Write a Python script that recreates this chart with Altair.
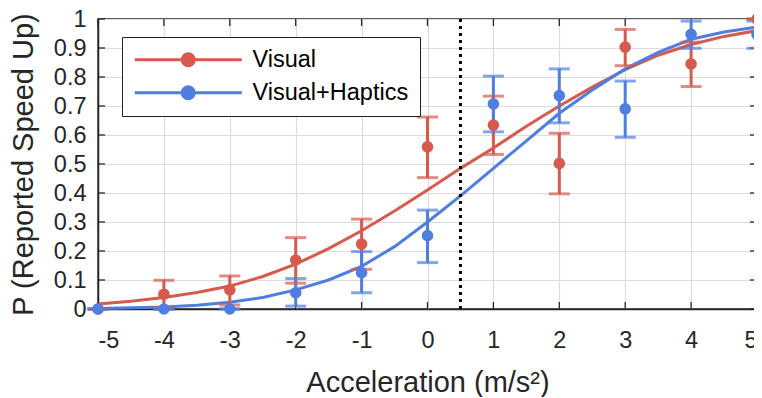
import altair as alt
import pandas as pd

# ---------------- data ----------------
series_names = ["Visual", "Visual+Haptics"]
series_colors = ["#D65A4D", "#4E7FE0"]

accel = [-5, -4, -3, -2, -1, 0, 1, 2, 3, 4, 5]
visual_p = [0.0, 0.051, 0.066, 0.169, 0.224, 0.559, 0.634, 0.502, 0.903, 0.845, 1.0]
visual_lo = [0.0, 0.005, 0.014, 0.089, 0.137, 0.453, 0.533, 0.397, 0.839, 0.767, 1.0]
visual_hi = [0.0, 0.099, 0.114, 0.246, 0.310, 0.662, 0.734, 0.606, 0.964, 0.920, 1.0]
haptic_p = [0.0, 0.0, 0.0, 0.056, 0.125, 0.253, 0.707, 0.736, 0.690, 0.947, 0.947]
haptic_lo = [0.0, 0.0, 0.0, 0.010, 0.056, 0.160, 0.611, 0.642, 0.592, 0.899, 0.899]
haptic_hi = [0.0, 0.0, 0.0, 0.105, 0.198, 0.341, 0.803, 0.828, 0.786, 0.993, 0.993]

# fitted psychometric curves (every 0.5 m/s^2)
curve_x = [-5, -4.5, -4, -3.5, -3, -2.5, -2, -1.5, -1, -0.5, 0, 0.5, 1, 1.5, 2, 2.5, 3, 3.5, 4, 4.5, 5]
visual_curve = [0.017, 0.027, 0.040, 0.057, 0.079, 0.112, 0.155, 0.208, 0.270, 0.338, 0.410,
                0.485, 0.555, 0.630, 0.700, 0.765, 0.825, 0.875, 0.912, 0.940, 0.960]
haptic_curve = [0.002, 0.004, 0.007, 0.013, 0.023, 0.040, 0.066, 0.100, 0.147, 0.215, 0.300,
                0.390, 0.485, 0.580, 0.675, 0.755, 0.828, 0.885, 0.930, 0.955, 0.972]

threshold_x = [0.5]
x_ticks = [-5, -4, -3, -2, -1, 0, 1, 2, 3, 4, 5]
y_ticks = [0, 0.1, 0.2, 0.3, 0.4, 0.5, 0.6, 0.7, 0.8, 0.9, 1.0]

# ---------------- tables ----------------
pts = pd.DataFrame({
    "x": accel * 2,
    "p": visual_p + haptic_p,
    "lo": visual_lo + haptic_lo,
    "hi": visual_hi + haptic_hi,
    "series": [series_names[0]] * len(accel) + [series_names[1]] * len(accel),
})
curves = pd.DataFrame({
    "x": curve_x * 2,
    "p": visual_curve + haptic_curve,
    "series": [series_names[0]] * len(curve_x) + [series_names[1]] * len(curve_x),
})
thr = pd.DataFrame({"x": threshold_x})
xt = pd.DataFrame({"x": x_ticks})
yt = pd.DataFrame({"p": y_ticks})

W, H = 659, 290
FONT = "Liberation Sans"

xscale = alt.Scale(domain=[-5, 5], nice=False, zero=False)
yscale = alt.Scale(domain=[0, 1], nice=False, zero=False)
cscale = alt.Scale(domain=series_names, range=series_colors)

# legend symbol: line with a filled dot (concentric rings) in the middle
def ring(cx, r):
    return f"M{cx + r},0 A{r},{r} 0 1,1 {cx - r},0 A{r},{r} 0 1,1 {cx + r},0"

legend_path = "M-1,0 L9.7,0 " + " ".join(ring(4.35, r) for r in (0.6, 0.33, 0.08))

xaxis = alt.Axis(values=x_ticks, title="Acceleration (m/s²)",
                 labelExpr="toString(datum.value)", labelOverlap=False,
                 titleX=W / 2, titleY=73, titleBaseline="middle", titleAlign="center")
yaxis = alt.Axis(values=y_ticks, title="P (Reported Speed Up)",
                 labelExpr="toString(round(datum.value * 10) / 10)", labelOverlap=False,
                 titleX=-75, titleY=H / 2, titleAngle=270, titleBaseline="middle",
                 titleAlign="center")


def X(field="x"):
    return alt.X(f"{field}:Q", scale=xscale, axis=xaxis)


def Y(field="p"):
    return alt.Y(f"{field}:Q", scale=yscale, axis=yaxis)


lines = alt.Chart(curves).mark_line(strokeWidth=3).encode(
    x=X(), y=Y(),
    color=alt.Color("series:N", scale=cscale,
                    legend=alt.Legend(orient="none", legendX=24, legendY=18, title=None,
                                      symbolType=legend_path, symbolSize=400,
                                      symbolStrokeWidth=3, labelFontSize=23.5, labelFont=FONT,
                                      labelColor="black", labelOffset=96, padding=11,
                                      rowPadding=8, strokeColor="#222222", fillColor="white")),
)

bars = alt.Chart(pts).mark_rule(strokeWidth=3).encode(
    x=X(), y=Y("lo"), y2="hi:Q",
    color=alt.Color("series:N", scale=cscale, legend=None),
)
caps_hi = alt.Chart(pts).mark_tick(orient="horizontal", size=21, thickness=3).encode(
    x=X(), y=Y("hi"),
    color=alt.Color("series:N", scale=cscale, legend=None),
)
caps_lo = alt.Chart(pts).mark_tick(orient="horizontal", size=21, thickness=3).encode(
    x=X(), y=Y("lo"),
    color=alt.Color("series:N", scale=cscale, legend=None),
)
dots = alt.Chart(pts).mark_circle(size=135, opacity=1).encode(
    x=X(), y=Y(),
    color=alt.Color("series:N", scale=cscale, legend=None),
)

vline = alt.Chart(thr).mark_rule(color="black", strokeWidth=3, strokeDash=[3, 4]).encode(
    x=X(), y=alt.value(0), y2=alt.value(H),
)

TL = 7
tick_b = alt.Chart(xt).mark_rule(color="#262626", strokeWidth=1.3).encode(
    x=X(), y=alt.value(H), y2=alt.value(H - TL))
tick_t = alt.Chart(xt).mark_rule(color="#262626", strokeWidth=1.3).encode(
    x=X(), y=alt.value(0), y2=alt.value(TL))
tick_l = alt.Chart(yt).mark_rule(color="#262626", strokeWidth=1.3).encode(
    y=Y(), x=alt.value(0), x2=alt.value(TL))
tick_r = alt.Chart(yt).mark_rule(color="#262626", strokeWidth=1.3).encode(
    y=Y(), x=alt.value(W), x2=alt.value(W - TL))

chart = alt.layer(
    lines, vline, tick_b, tick_t, tick_l, tick_r, bars, caps_hi, caps_lo, dots
).properties(
    width=W, height=H,
    autosize=alt.AutoSizeParams(type="none"),
    padding={"left": 90, "top": 11, "right": -3, "bottom": 88},
).configure_view(
    stroke="#262626", strokeWidth=1.5,
).configure_axis(
    grid=True, gridColor="#DCDCDC", gridWidth=1.2,
    domainColor="#262626", domainWidth=1.5,
    tickSize=0, labelFont=FONT, labelFontSize=23.5, labelColor="#262626",
    titleFont=FONT, titleFontSize=29, titleFontWeight="normal", titleColor="#262626",
).configure_axisX(
    labelPadding=19,
).configure_axisY(
    labelPadding=12,
)

chart.save("out.html", embed_options={"renderer": "svg", "actions": False})
